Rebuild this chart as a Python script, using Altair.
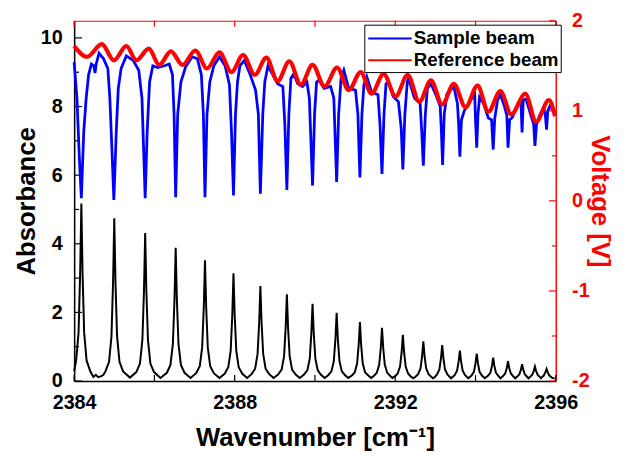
import altair as alt
import pandas as pd

FONT = "Liberation Sans"

# ---------------- data ----------------
absorb_wn = [
    2384.00, 2384.05, 2384.11, 2384.15, 2384.18, 2384.21, 2384.25, 2384.31, 2384.40, 2384.48,
    2384.54, 2384.60, 2384.68, 2384.73, 2384.78,
    2384.87, 2384.93, 2384.97, 2385.00, 2385.03, 2385.07, 2385.13, 2385.22, 2385.39,
    2385.55, 2385.64, 2385.70, 2385.74, 2385.77, 2385.80, 2385.84, 2385.90, 2385.99, 2386.15,
    2386.31, 2386.40, 2386.46, 2386.50, 2386.53, 2386.56, 2386.60, 2386.66, 2386.75, 2386.90,
    2387.04, 2387.13, 2387.19, 2387.23, 2387.26, 2387.29, 2387.33, 2387.39, 2387.48, 2387.62,
    2387.75, 2387.84, 2387.90, 2387.94, 2387.97, 2388.00, 2388.04, 2388.10, 2388.19, 2388.31,
    2388.42, 2388.51, 2388.57, 2388.61, 2388.64, 2388.67, 2388.71, 2388.77, 2388.86, 2388.97,
    2389.08, 2389.17, 2389.23, 2389.27, 2389.30, 2389.33, 2389.37, 2389.43, 2389.52, 2389.62,
    2389.72, 2389.81, 2389.87, 2389.91, 2389.94, 2389.97, 2390.01, 2390.07, 2390.15, 2390.24,
    2390.33, 2390.41, 2390.47, 2390.51, 2390.54, 2390.57, 2390.61, 2390.67, 2390.75, 2390.83,
    2390.92, 2390.99, 2391.05, 2391.09, 2391.12, 2391.15, 2391.19, 2391.25, 2391.33, 2391.40,
    2391.47, 2391.54, 2391.60, 2391.64, 2391.67, 2391.70, 2391.74, 2391.80, 2391.87, 2391.93,
    2392.00, 2392.06, 2392.12, 2392.16, 2392.19, 2392.22, 2392.26, 2392.32, 2392.38, 2392.45,
    2392.51, 2392.57, 2392.63, 2392.67, 2392.70, 2392.73, 2392.77, 2392.83, 2392.89, 2392.94,
    2392.99, 2393.04, 2393.10, 2393.14, 2393.17, 2393.20, 2393.24, 2393.30, 2393.39,
    2393.48, 2393.54, 2393.58, 2393.61, 2393.64, 2393.68, 2393.74, 2393.82,
    2393.90, 2393.96, 2394.00, 2394.03, 2394.06, 2394.10, 2394.16, 2394.23,
    2394.31, 2394.37, 2394.41, 2394.44, 2394.47, 2394.51, 2394.57, 2394.62,
    2394.68, 2394.74, 2394.78, 2394.81, 2394.84, 2394.88, 2394.94, 2394.99,
    2395.04, 2395.09, 2395.13, 2395.16, 2395.19, 2395.23, 2395.28, 2395.32,
    2395.36, 2395.41, 2395.45, 2395.48, 2395.51, 2395.55, 2395.60, 2395.63,
    2395.66, 2395.70, 2395.74, 2395.77, 2395.80, 2395.84, 2395.90, 2395.97,
]
absorb_val = [
    0.29, 0.60, 1.41, 3.14, 5.17, 3.14, 1.41, 0.60, 0.29, 0.12,
    0.18, 0.11, 0.14, 0.18, 0.28,
    0.56, 1.30, 2.88, 4.74, 2.88, 1.30, 0.56, 0.28, 0.10,
    0.26, 0.51, 1.19, 2.62, 4.31, 2.62, 1.19, 0.51, 0.26, 0.09,
    0.24, 0.47, 1.08, 2.36, 3.88, 2.36, 1.08, 0.47, 0.24, 0.09,
    0.23, 0.43, 0.98, 2.15, 3.52, 2.15, 0.98, 0.43, 0.23, 0.09,
    0.21, 0.40, 0.88, 1.92, 3.14, 1.92, 0.88, 0.40, 0.21, 0.09,
    0.20, 0.36, 0.79, 1.70, 2.77, 1.70, 0.79, 0.36, 0.20, 0.09,
    0.19, 0.33, 0.72, 1.55, 2.53, 1.55, 0.72, 0.33, 0.19, 0.09,
    0.18, 0.31, 0.65, 1.39, 2.25, 1.39, 0.65, 0.31, 0.18, 0.09,
    0.17, 0.28, 0.58, 1.23, 1.99, 1.23, 0.58, 0.28, 0.17, 0.09,
    0.16, 0.25, 0.51, 1.07, 1.72, 1.07, 0.51, 0.25, 0.16, 0.09,
    0.15, 0.24, 0.47, 0.97, 1.55, 0.97, 0.47, 0.24, 0.15, 0.09,
    0.14, 0.22, 0.42, 0.85, 1.35, 0.85, 0.42, 0.22, 0.14, 0.08,
    0.13, 0.20, 0.37, 0.73, 1.16, 0.73, 0.37, 0.20, 0.13, 0.08,
    0.12, 0.19, 0.34, 0.67, 1.05, 0.67, 0.34, 0.19, 0.08,
    0.17, 0.30, 0.57, 0.89, 0.57, 0.30, 0.17, 0.08,
    0.16, 0.27, 0.52, 0.80, 0.52, 0.27, 0.16, 0.08,
    0.15, 0.24, 0.44, 0.68, 0.44, 0.24, 0.15, 0.08,
    0.14, 0.22, 0.38, 0.58, 0.38, 0.22, 0.14, 0.08,
    0.13, 0.19, 0.33, 0.49, 0.33, 0.19, 0.13, 0.08,
    0.12, 0.18, 0.29, 0.42, 0.29, 0.18, 0.12, 0.08,
    0.12, 0.16, 0.25, 0.35, 0.25, 0.16, 0.10, 0.07,
]

sample_wn = [
    2384.00, 2384.07, 2384.13, 2384.18, 2384.24, 2384.30, 2384.36, 2384.43, 2384.49, 2384.52,
    2384.55, 2384.62, 2384.73, 2384.84, 2384.89, 2384.94, 2384.99, 2385.05, 2385.10, 2385.17,
    2385.30, 2385.47, 2385.61, 2385.69, 2385.73, 2385.77, 2385.82, 2385.88, 2385.96, 2386.08,
    2386.25, 2386.37, 2386.45, 2386.49, 2386.53, 2386.58, 2386.66, 2386.78, 2386.94, 2387.07,
    2387.17, 2387.22, 2387.26, 2387.31, 2387.38, 2387.48, 2387.62, 2387.76, 2387.87, 2387.92,
    2387.97, 2388.02, 2388.07, 2388.13, 2388.24, 2388.38, 2388.52, 2388.59, 2388.64, 2388.70,
    2388.75, 2388.83, 2388.95, 2389.07, 2389.20, 2389.25, 2389.30, 2389.35, 2389.40, 2389.47,
    2389.57, 2389.69, 2389.80, 2389.86, 2389.94, 2389.99, 2390.04, 2390.10, 2390.23, 2390.39,
    2390.47, 2390.54, 2390.59, 2390.65, 2390.72, 2390.84, 2391.01, 2391.07, 2391.12, 2391.17,
    2391.22, 2391.29, 2391.41, 2391.57, 2391.62, 2391.67, 2391.72, 2391.77, 2391.83, 2391.95,
    2392.08, 2392.15, 2392.19, 2392.24, 2392.30, 2392.33, 2392.48, 2392.62, 2392.66, 2392.70,
    2392.75, 2392.80, 2392.89, 2393.01, 2393.12, 2393.15, 2393.18, 2393.22, 2393.29, 2393.46,
    2393.55, 2393.58, 2393.61, 2393.65, 2393.72, 2393.88, 2393.98, 2394.00, 2394.03, 2394.06,
    2394.10, 2394.20, 2394.32, 2394.40, 2394.44, 2394.48, 2394.55, 2394.62, 2394.72, 2394.78,
    2394.81, 2394.85, 2394.92, 2395.05, 2395.13, 2395.16, 2395.19, 2395.26, 2395.38, 2395.45,
    2395.48, 2395.52, 2395.60, 2395.70, 2395.74, 2395.77, 2395.80, 2395.86, 2395.97,
]
sample_volt = [
    1.54, 1.14, 0.48, 0.03, 0.77, 1.14, 1.40, 1.52, 1.50, 1.42,
    1.52, 1.64, 1.58, 1.47, 1.14, 0.59, 0.01, 0.77, 1.25, 1.47,
    1.61, 1.56, 1.45, 1.14, 0.59, 0.03, 0.77, 1.32, 1.50, 1.48,
    1.50, 1.52, 1.40, 0.96, 0.04, 0.96, 1.32, 1.49, 1.60, 1.58,
    1.40, 0.96, 0.04, 0.96, 1.32, 1.50, 1.60, 1.50, 1.29, 0.77,
    0.06, 0.96, 1.32, 1.50, 1.56, 1.41, 1.23, 0.96, 0.08, 0.96,
    1.32, 1.50, 1.40, 1.30, 1.27, 0.85, 0.12, 0.96, 1.36, 1.41,
    1.30, 1.27, 1.32, 1.14, 0.17, 0.96, 1.32, 1.34, 1.25, 1.27,
    1.14, 0.21, 0.96, 1.36, 1.45, 1.25, 1.23, 0.96, 0.26, 0.96,
    1.29, 1.38, 1.21, 1.18, 0.85, 0.30, 0.96, 1.30, 1.32, 1.16,
    1.10, 0.80, 0.35, 0.96, 1.32, 1.36, 1.14, 1.08, 0.77, 0.39,
    0.96, 1.25, 1.30, 1.18, 1.05, 0.77, 0.40, 0.96, 1.19, 1.27,
    1.08, 0.85, 0.49, 0.90, 1.00, 1.12, 1.18, 0.90, 0.59, 0.95,
    1.15, 1.08, 0.92, 0.90, 0.57, 0.92, 1.12, 1.18, 1.05, 0.95,
    0.59, 0.90, 0.93, 1.08, 1.12, 0.76, 1.12, 1.13, 0.95, 0.85,
    0.61, 0.85, 0.95, 1.04, 0.95, 0.79, 1.00, 1.06, 0.97,
]

reference_wn = [
    2384.00, 2384.32, 2384.69, 2384.99, 2385.30, 2385.55, 2385.86, 2386.12, 2386.41, 2386.70,
    2387.02, 2387.31, 2387.62, 2387.92, 2388.21, 2388.50, 2388.79, 2389.07, 2389.36, 2389.65,
    2389.94, 2390.24, 2390.55, 2390.84, 2391.14, 2391.41, 2391.71, 2392.01, 2392.31, 2392.60,
    2392.89, 2393.17, 2393.46, 2393.75, 2394.05, 2394.32, 2394.62, 2394.89, 2395.24, 2395.51,
    2395.83, 2395.98,
]
reference_volt = [
    1.72, 1.60, 1.74, 1.56, 1.72, 1.56, 1.69, 1.51, 1.66, 1.51,
    1.67, 1.47, 1.65, 1.43, 1.62, 1.40, 1.59, 1.33, 1.55, 1.29,
    1.51, 1.27, 1.48, 1.23, 1.43, 1.19, 1.41, 1.16, 1.40, 1.10,
    1.34, 1.07, 1.30, 1.04, 1.28, 0.99, 1.22, 0.96, 1.19, 0.88,
    1.12, 0.94,
]

series_names = ["Sample beam", "Reference beam"]
series_colors = ["#0000ff", "#ff0000"]

x_label_values = [2384, 2388, 2392, 2396]
x_tick_values = [2384, 2386, 2388, 2390, 2392, 2394, 2396]
abs_label_values = [0, 2, 4, 6, 8, 10]
abs_minor_values = [1, 3, 5, 7, 9]
volt_label_values = [-2, -1, 0, 1, 2]
volt_minor_values = [-1.5, -0.5, 0.5, 1.5]

W, H = 488, 365

# ---------------- tables ----------------
df_abs = pd.DataFrame({"wn": absorb_wn, "A": absorb_val})
df_sample = pd.DataFrame({"wn": sample_wn, "V": sample_volt, "series": series_names[0]})
df_ref = pd.DataFrame({"wn": reference_wn, "V": reference_volt, "series": series_names[1]})
df_xt = pd.DataFrame({"wn": x_tick_values})
df_amaj = pd.DataFrame({"A": abs_label_values})
df_amin = pd.DataFrame({"A": abs_minor_values})
df_vmaj = pd.DataFrame({"V": volt_label_values})
df_vmin = pd.DataFrame({"V": volt_minor_values})

x_scale = alt.Scale(domain=[2384, 2396], nice=False, zero=False)
a_scale = alt.Scale(domain=[0, 10.5], nice=False, zero=False)
v_scale = alt.Scale(domain=[-2, 2], nice=False, zero=False)

x_axis = alt.Axis(
    values=x_label_values, format="d", ticks=False, grid=False,
    domainColor="black", domainWidth=1.5, labelFlush=False,
    labelFont=FONT, labelFontSize=20, labelFontWeight="bold", labelColor="black",
    labelPadding=12, title="Wavenumber [cm⁻¹]", titleFont=FONT, titleFontSize=26,
    titleFontWeight="bold", titleColor="black", titlePadding=12,
)
a_axis = alt.Axis(
    orient="left", values=abs_label_values, format="d", ticks=False, grid=False,
    domainColor="black", domainWidth=1.5, labelFlush=False,
    labelFont=FONT, labelFontSize=20, labelFontWeight="bold", labelColor="black",
    labelPadding=12, title="Absorbance", titleFont=FONT, titleFontSize=26,
    titleFontWeight="bold", titleColor="black", titlePadding=1,
)
v_axis = alt.Axis(
    orient="right", values=volt_label_values, labelExpr="'' + datum.value",
    ticks=False, grid=False, domainColor="#ff0000", domainWidth=1.2, labelFlush=False,
    labelFont=FONT, labelFontSize=20, labelFontWeight="bold", labelColor="#ff0000",
    labelPadding=16, title="Voltage [V]", titleFont=FONT, titleFontSize=26,
    titleFontWeight="bold", titleColor="#ff0000", titlePadding=2,
    titleBaseline="alphabetic",
)

X = alt.X("wn:Q", scale=x_scale, axis=x_axis)
color = alt.Color(
    "series:N",
    scale=alt.Scale(domain=series_names, range=series_colors),
    legend=alt.Legend(
        title=None, orient="none", legendX=294, legendY=4, symbolType="M-2,0H2",
        symbolSize=484, symbolStrokeWidth=2, labelFont=FONT, labelFontSize=19,
        labelFontWeight="bold", labelColor="black", labelLimit=400,
        fillColor="white", strokeColor="black", padding=2, rowPadding=0,
        symbolOffset=12, labelOffset=12, zindex=2,
    ),
)

black = alt.Chart(df_abs).mark_line(color="black", strokeWidth=2).encode(
    x=X, y=alt.Y("A:Q", scale=a_scale, axis=a_axis))
a_major = alt.Chart(df_amaj).mark_rule(color="black", strokeWidth=1.2).encode(
    y=alt.Y("A:Q", scale=a_scale, axis=a_axis), x=alt.value(0), x2=alt.value(8))
a_minor = alt.Chart(df_amin).mark_rule(color="black", strokeWidth=1.2).encode(
    y=alt.Y("A:Q", scale=a_scale, axis=a_axis), x=alt.value(0), x2=alt.value(5))
bottom_ticks = alt.Chart(df_xt).mark_rule(color="black", strokeWidth=1.2).encode(
    x=X, y=alt.value(H), y2=alt.value(H - 6))
top_ticks = alt.Chart(df_xt).mark_rule(color="#ff0000", strokeWidth=1.2).encode(
    x=X, y=alt.value(0), y2=alt.value(6))

left = alt.layer(black, a_major, a_minor, bottom_ticks, top_ticks)

blue = alt.Chart(df_sample).mark_line(strokeWidth=2.8).encode(
    x=X, y=alt.Y("V:Q", scale=v_scale, axis=v_axis), color=color)
red = alt.Chart(df_ref).mark_line(strokeWidth=4.2, interpolate="monotone").encode(
    x=X, y=alt.Y("V:Q", scale=v_scale, axis=v_axis), color=color)
v_major = alt.Chart(df_vmaj).mark_rule(color="#ff0000", strokeWidth=1.2).encode(
    y=alt.Y("V:Q", scale=v_scale, axis=v_axis), x=alt.value(W), x2=alt.value(W - 7))
v_minor = alt.Chart(df_vmin).mark_rule(color="#ff0000", strokeWidth=1.2).encode(
    y=alt.Y("V:Q", scale=v_scale, axis=v_axis), x=alt.value(W), x2=alt.value(W - 4))

right = alt.layer(blue, red, v_major, v_minor)

chart = (
    alt.layer(left, right)
    .resolve_scale(y="independent")
    .properties(
        width=W, height=H,
        autosize=alt.AutoSizeParams(type="none"),
        padding={"left": 67, "top": 10, "right": 61, "bottom": 70},
        background="white",
    )
    .configure(font=FONT)
    .configure_view(stroke="#ff0000", strokeWidth=1)
)

chart.save("out.html", embed_options={"renderer": "svg", "actions": False})
